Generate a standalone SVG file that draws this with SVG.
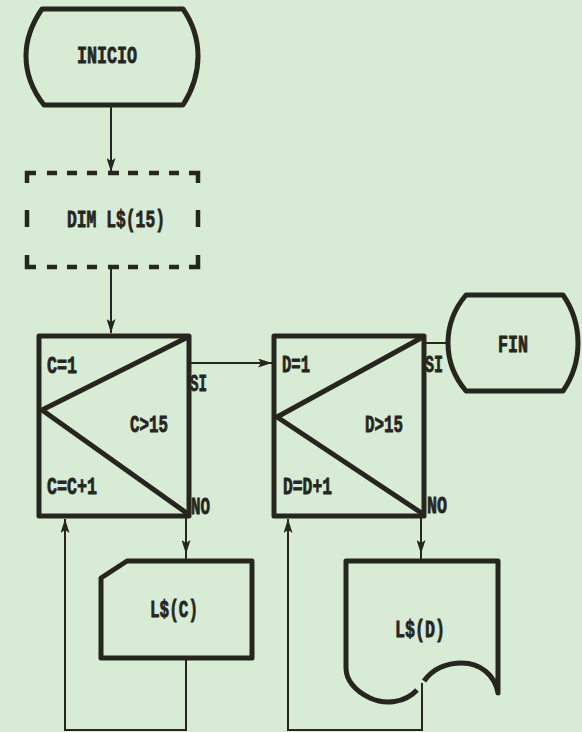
<svg xmlns="http://www.w3.org/2000/svg" width="582" height="732" viewBox="0 0 582 732">
<defs>
<style>
.bg{fill:#d8ecd5}
.shape{fill:none;stroke:#26261f;stroke-width:5;stroke-linejoin:round}
.thin{fill:none;stroke:#26261f;stroke-width:2}
.dash{fill:none;stroke:#26261f;stroke-width:4.5}
.t{font-family:"Liberation Mono","DejaVu Sans Mono",monospace;font-weight:bold;font-size:23px;fill:#26261f;stroke:#26261f;stroke-width:0.8}
</style>
<marker id="ah" viewBox="0 0 14 9" refX="14" refY="4.5" markerWidth="14" markerHeight="9" markerUnits="userSpaceOnUse" orient="auto">
<path d="M0,0 L14,4.5 L0,9 L3,4.5 Z" fill="#26261f"/>
</marker>
</defs>
<rect class="bg" x="0" y="0" width="582" height="732"/>

<g id="connectors">
<path class="thin" d="M111,106 L111,172" marker-end="url(#ah)"/>
<path class="thin" d="M111,268 L111,333" marker-end="url(#ah)"/>
<path class="thin" d="M190,363 L272,363" marker-end="url(#ah)"/>
<path class="thin" d="M424,343 L447,343"/>
<path class="thin" d="M186,517 L186,554 L186,561" marker-mid="url(#ah)"/>
<path class="thin" d="M186,658 L186,730 L65,730 L65,519" marker-end="url(#ah)"/>
<path class="thin" d="M421,517 L421,554 L421,561" marker-mid="url(#ah)"/>
<path class="thin" d="M422,683 L422,730 L288,730 L288,519" marker-end="url(#ah)"/>
</g>

<g id="inicio">
<path class="shape" d="M42,9 L183,9 C192,22 198,38 198,56 C198,74 192,91 183,105 L44,105 C33,91 26,74 26,56 C26,38 33,22 42,9 Z"/>
<text class="t" x="77" y="63" textLength="60" lengthAdjust="spacingAndGlyphs">INICIO</text>
</g>

<g id="dim">
<path class="dash" d="M27,183 L27,173 L36,173 M47,173 H57 M67,173 H77 M87,173 H97 M108,173 H119 M128,173 H138 M149,173 H159 M169,173 H179 M189,173 H198 L198,183 M27,210 V227 M198,210 V227 M27,255 L27,267 L36,267 M47,267 H57 M67,267 H77 M87,267 H97 M108,267 H119 M128,267 H138 M149,267 H159 M169,267 H179 M189,267 H198 L198,255"/>
<text class="t" x="67" y="227" textLength="98" lengthAdjust="spacingAndGlyphs">DIM L$(15)</text>
</g>

<g id="loopC">
<rect class="shape" x="39" y="336" width="150" height="180"/>
<path class="shape" d="M188,337 L42,410 L188,514"/>
<text class="t" x="47" y="373" textLength="30" lengthAdjust="spacingAndGlyphs">C=1</text>
<text class="t" x="130" y="432" textLength="38" lengthAdjust="spacingAndGlyphs">C&gt;15</text>
<text class="t" x="47" y="494" textLength="50" lengthAdjust="spacingAndGlyphs">C=C+1</text>
<text class="t" x="190" y="391" textLength="17" lengthAdjust="spacingAndGlyphs">SI</text>
<text class="t" x="191" y="514" textLength="19" lengthAdjust="spacingAndGlyphs">NO</text>
</g>

<g id="loopD">
<rect class="shape" x="274" y="336" width="150" height="180"/>
<path class="shape" d="M423,337 L277,417 L423,514"/>
<text class="t" x="282" y="372" textLength="28" lengthAdjust="spacingAndGlyphs">D=1</text>
<text class="t" x="365" y="432" textLength="38" lengthAdjust="spacingAndGlyphs">D&gt;15</text>
<text class="t" x="283" y="494" textLength="49" lengthAdjust="spacingAndGlyphs">D=D+1</text>
<text class="t" x="425" y="372" textLength="18" lengthAdjust="spacingAndGlyphs">SI</text>
<text class="t" x="427" y="513" textLength="20" lengthAdjust="spacingAndGlyphs">NO</text>
</g>

<g id="fin">
<path class="shape" d="M466,295 L563,295 C572,308 578,324 578,343 C578,361 572,378 563,391 L466,391 C455,378 448,361 448,343 C448,324 455,308 466,295 Z"/>
<text class="t" x="498" y="352" textLength="30" lengthAdjust="spacingAndGlyphs">FIN</text>
</g>

<g id="inputC">
<path class="shape" d="M101,578 L127,561 L252,561 L252,658 L101,658 Z"/>
<text class="t" x="150" y="617" textLength="48" lengthAdjust="spacingAndGlyphs">L$(C)</text>
</g>

<g id="outputD">
<path class="shape" d="M417,690 C405,703 385,705 370,698 C355,691 346,680 346,668 L346,561 L498,561 L498,693 C495,675 480,663 462,663 C445,663 432,670 424,681"/>
<text class="t" x="395" y="637" textLength="50" lengthAdjust="spacingAndGlyphs">L$(D)</text>
</g>
</svg>
